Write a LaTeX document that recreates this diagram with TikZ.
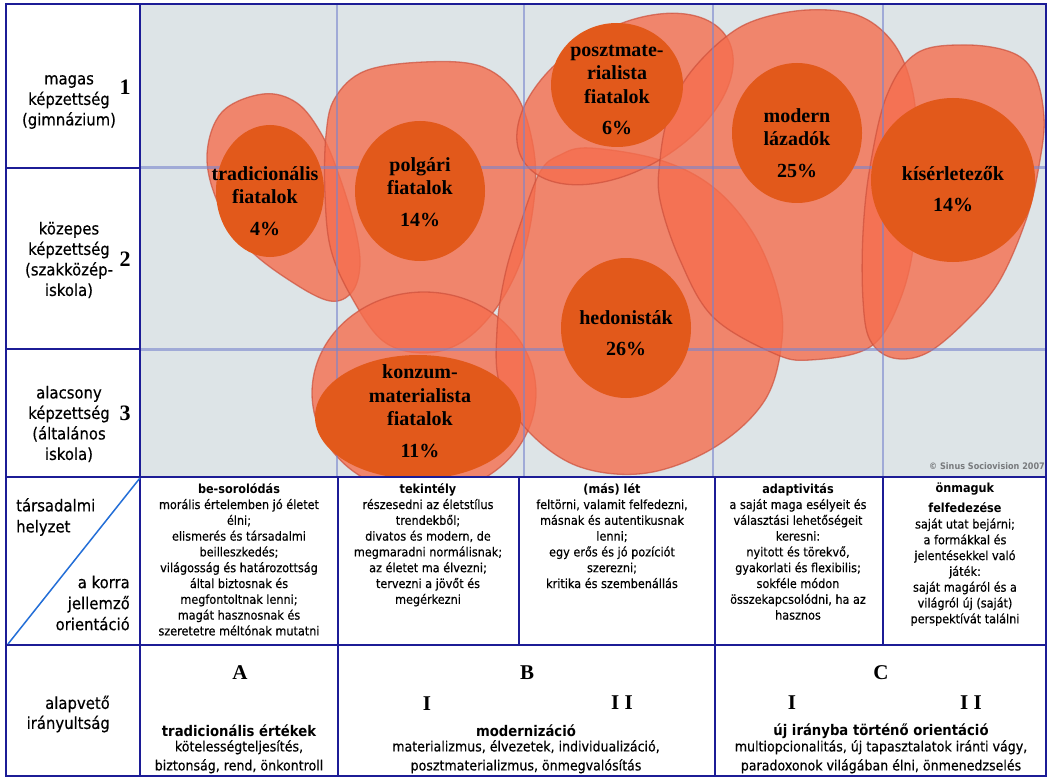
\documentclass[tikz,border=0pt]{standalone}
\usepackage{fontspec}
\setmainfont{DejaVu Sans}[FakeStretch=0.9, UprightFeatures={FakeBold=0.4}]
\newfontfamily\tms{Liberation Serif}

\definecolor{chartbg}{RGB}{221,228,231}
\definecolor{blobc}{RGB}{245,110,78}
\definecolor{blobline}{RGB}{205,80,60}
\definecolor{dotc}{RGB}{226,89,27}
\definecolor{gridc}{RGB}{120,132,205}
\definecolor{framec}{RGB}{28,28,150}
\definecolor{diagc}{RGB}{35,110,215}
\definecolor{copyc}{RGB}{120,122,125}

\tikzset{
  frame/.style={draw=framec, line width=2pt},
  blob/.style={fill=blobc, fill opacity=0.8, draw=blobline, draw opacity=0.7, line width=1.3pt},
  dot/.style={fill=dotc},
  gridh/.style={draw=gridc, line width=3pt, opacity=0.6},
  gridv/.style={draw=gridc, line width=1.5pt, opacity=0.6},
  circlbl/.style={font=\tms\bfseries\fontsize{20}{23.5}\selectfont, align=center, inner sep=0pt},
  rowlbl/.style={font=\fontsize{16.5}{20.5}\selectfont, align=center, inner sep=0pt},
  num/.style={font=\tms\bfseries\fontsize{22}{24}\selectfont, inner sep=0pt},
  cell/.style={font=\fontsize{12.5}{15.8}\selectfont, align=center, inner sep=0pt, anchor=north},
  letter/.style={font=\tms\bfseries\fontsize{21}{24}\selectfont, inner sep=0pt},
  orihead/.style={font=\bfseries\fontsize{14.7}{18}\selectfont, inner sep=0pt},
  oritext/.style={font=\fontsize{14}{19}\selectfont, align=center, inner sep=0pt, anchor=north},
}

\begin{document}
\begin{tikzpicture}[x=1pt, y=-1pt]
\useasboundingbox (0,0) rectangle (1049,778);
\fill[white] (0,0) rectangle (1049,778);

% ---- chart area ----
\fill[chartbg] (140,4) rectangle (1046,477);
\begin{scope}
  \clip (140,4) rectangle (1046,477);
  % large group areas
  \draw[blob] plot[smooth cycle, tension=0.6] coordinates {(263,94) (297,103) (322,135) (340,178) (355,228) (360,265) (352,292) (330,301) (292,282) (248,248) (218,203) (207,155) (222,112)};
  \draw[blob] plot[smooth cycle, tension=0.6] coordinates {(424,62) (480,66) (515,93) (532,140) (535,190) (523,255) (497,307) (462,342) (423,353) (383,341) (352,298) (331,250) (325,195) (326,135) (335,98) (365,71)};
  \draw[blob] (424,393) ellipse [x radius=112, y radius=101];
  \draw[blob] plot[smooth cycle, tension=0.6] coordinates {(590,148) (660,160) (713,187) (753,233) (777,290) (782,340) (765,400) (715,447) (647,473) (580,467) (530,433) (500,385) (497,330) (505,275) (520,225) (540,172) (560,155)};
  \draw[blob] (625,99) ellipse [x radius=119, y radius=70, rotate=31];
  \draw[blob] plot[smooth cycle, tension=0.6] coordinates {(807,10) (857,15) (891,40) (910,80) (917,135) (915,233) (900,300) (870,347) (810,360) (773,353) (713,317) (680,260) (660,200) (660,160) (668,117) (687,77) (722,40) (756,20)};
  \draw[blob] plot[smooth cycle, tension=0.6] coordinates {(967,45) (1013,53) (1035,75) (1044,117) (1040,160) (1027,217) (1000,280) (967,320) (927,353) (893,358) (870,340) (863,300) (863,233) (870,167) (887,95) (917,53)};
  % grid
  \foreach \gx in {337,524,713,883} \draw[gridv] (\gx,4) -- (\gx,477);
  \foreach \gy in {168,349} \draw[gridh] (140,\gy) -- (1046,\gy);
  % core groups
  \fill[dot] (270,191) ellipse [x radius=54, y radius=66];
  \fill[dot] (420,191) ellipse [x radius=65, y radius=70];
  \fill[dot] (418,417) ellipse [x radius=103, y radius=62];
  \fill[dot] (617,85) ellipse [x radius=66, y radius=62];
  \fill[dot] (626,328) ellipse [x radius=65, y radius=70];
  \fill[dot] (797,133) ellipse [x radius=65, y radius=70];
  \fill[dot] (953,180) ellipse [x radius=82, y radius=82];
  \node[font=\bfseries\fontsize{9}{10}\selectfont, text=copyc, anchor=east, inner sep=0pt] (copy) at (1045,466) {© Sinus Sociovision 2007};
\end{scope}

% group labels
\node[circlbl] (tradL) at (265,201) {tradicionális\\fiatalok\\[8pt]4\%};
\node[circlbl] (polgL) at (420,192) {polgári\\fiatalok\\[8pt]14\%};
\node[circlbl] (konzL) at (420,411) {konzum-\\materialista\\fiatalok\\[8pt]11\%};
\node[circlbl] (posztL) at (617,90) {posztmate-\\rialista\\fiatalok\\[8pt]6\%};
\node[circlbl] (hedL) at (626,333) {hedonisták\\[8pt]26\%};
\node[circlbl] (modL) at (797,143) {modern\\lázadók\\[8pt]25\%};
\node[circlbl] (kisL) at (953,189) {kísérletezők\\[8pt]14\%};

% ---- table frame ----
\draw[frame] (6,4) rectangle (1046,776);
\draw[frame] (140,4) -- (140,776);
\draw[frame] (6,168) -- (140,168);
\draw[frame] (6,349) -- (140,349);
\draw[frame] (6,477) -- (1046,477);
\draw[frame] (6,645) -- (1046,645);
\foreach \cx in {338,519,715,883} \draw[frame] (\cx,477) -- (\cx,645);
\foreach \cx in {338,715} \draw[frame] (\cx,645) -- (\cx,776);
\draw[diagc, line width=1.5pt] (8,644) -- (140,478);

% education levels
\node[rowlbl] (edu1) at (69,102) {magas\\képzettség\\(gimnázium)};
\node[num] (n1) at (125,87) {1};
\node[rowlbl] (edu2) at (69,260) {közepes\\képzettség\\(szakközép-\\iskola)};
\node[num] (n2) at (125,259) {2};
\node[rowlbl] (edu3) at (69,424) {alacsony\\képzettség\\(általános\\iskola)};
\node[num] (n3) at (125,413) {3};

% social position / orientation header
\node[font=\fontsize{16.5}{21}\selectfont, align=left, anchor=west, inner sep=0pt] (soc) at (16,517) {társadalmi\\helyzet};
\node[font=\fontsize{16.5}{21}\selectfont, align=right, anchor=east, inner sep=0pt] (ori) at (130,603) {a korra\\jellemző\\orientáció};

% orientation cells
\node[cell] (c1) at (239,483) {\textbf{be-sorolódás}\\morális értelemben jó életet\\élni;\\elismerés és társadalmi\\beilleszkedés;\\világosság és határozottság\\által biztosnak és\\megfontoltnak lenni;\\magát hasznosnak és\\szeretetre méltónak mutatni};
\node[cell] (c2) at (428,483) {\textbf{tekintély}\\részesedni az életstílus\\trendekből;\\divatos és modern, de\\megmaradni normálisnak;\\az életet ma élvezni;\\tervezni a jövőt és\\megérkezni};
\node[cell] (c3) at (612,483) {\textbf{(más) lét}\\feltörni, valamit felfedezni,\\másnak és autentikusnak\\lenni;\\egy erős és jó pozíciót\\szerezni;\\kritika és szembenállás};
\node[cell] (c4) at (798,483) {\textbf{adaptivitás}\\a saját maga esélyeit és\\választási lehetőségeit\\keresni:\\nyitott és törekvő,\\gyakorlati és flexibilis;\\sokféle módon\\összekapcsolódni, ha az\\hasznos};
\node[cell] (c5) at (965,483) {\textbf{önmaguk}\\[4pt]\textbf{felfedezése}\\saját utat bejárni;\\a formákkal és\\jelentésekkel való\\játék:\\saját magáról és a\\világról új (saját)\\perspektívát találni};

% basic orientation row
\node[font=\fontsize{16.5}{20}\selectfont, align=right, anchor=east, inner sep=0pt] (basic) at (110,714) {alapvető\\irányultság};
\node[letter] (lA) at (240,673) {A};
\node[letter] (lB) at (527,673) {B};
\node[letter] (lC) at (881,673) {C};
\node[letter] (bI) at (427,704) {I};
\node[letter] (bII) at (622,703) {I I};
\node[letter] (cI) at (792,703) {I};
\node[letter] (cII) at (971,703) {I I};
\node[orihead] (hA) at (239,731) {tradicionális értékek};
\node[orihead] (hB) at (526,731) {modernizáció};
\node[orihead] (hC) at (881,731) {új irányba történő orientáció};
\node[oritext] (tA) at (239,740) {kötelességteljesítés,\\biztonság, rend, önkontroll};
\node[oritext] (tB) at (526,740) {materializmus, élvezetek, individualizáció,\\posztmaterializmus, önmegvalósítás};
\node[oritext] (tC) at (881,740) {multiopcionalitás, új tapasztalatok iránti vágy,\\paradoxonok világában élni, önmenedzselés};
\end{tikzpicture}
\end{document}
